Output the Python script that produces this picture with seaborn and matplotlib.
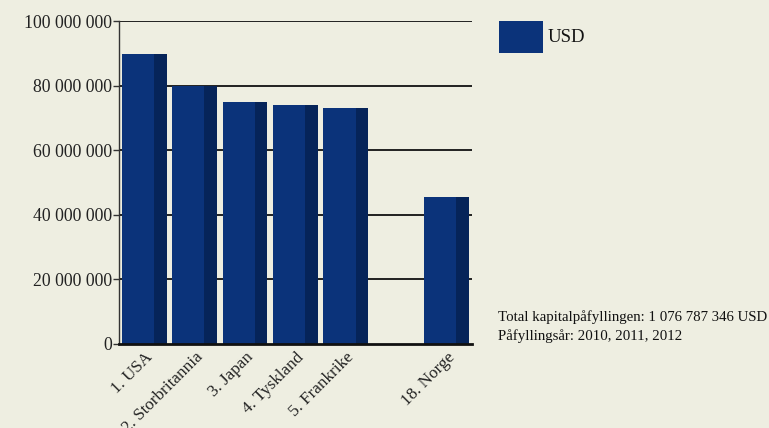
import numpy as np
import pandas as pd
import seaborn as sns
import matplotlib
matplotlib.use("Agg")
import matplotlib.pyplot as plt
from matplotlib.patches import Rectangle
from matplotlib.ticker import FuncFormatter

categories = ["1. USA", "2. Storbritannia", "3. Japan", "4. Tyskland", "5. Frankrike", " ", "18. Norge"]
values = [89.9e6, 80.0e6, 75.0e6, 74.1e6, 72.9e6, np.nan, 45.4e6]
series_name = "USD"
yticks = [0, 20e6, 40e6, 60e6, 80e6, 100e6]
note_lines = ["Total kapitalpåfyllingen: 1 076 787 346 USD", "Påfyllingsår: 2010, 2011, 2012"]

BG = "#eeeee1"
MAIN = "#0b337a"
DARK = "#062459"

sns.set_theme(style="white")
plt.rcParams["font.family"] = ["Liberation Serif", "DejaVu Serif"]

df = pd.DataFrame({"land": categories, "verdi": values})

fig = plt.figure(figsize=(7.69, 4.28), dpi=100, facecolor=BG)
ax = fig.add_axes([0.1547, 0.197, 0.6138 - 0.1547, 0.9509 - 0.197])
ax.set_facecolor(BG)

sns.barplot(data=df.dropna(), x="land", y="verdi", order=categories, color=MAIN,
            saturation=1, width=0.89, ax=ax, zorder=3, linewidth=0, edgecolor="none")

for p in list(ax.patches):
    w = p.get_width()
    h = p.get_height()
    if np.isnan(h) or h == 0:
        continue
    ax.add_patch(Rectangle((p.get_x() + w * 0.715, 0), w * 0.285, h,
                           facecolor=DARK, edgecolor="none", linewidth=0, zorder=4))

ax.set_xlim(-0.5, len(categories) - 0.5)
ax.set_ylim(0, 100e6)
ax.set_yticks(yticks)
ax.yaxis.set_major_formatter(FuncFormatter(lambda v, _: f"{int(v):,}".replace(",", " ")))
for y in yticks[1:]:
    ax.axhline(y, color="#111111", lw=1.3, zorder=1)

ax.set_xlabel("")
ax.set_ylabel("")
for s in ["top", "right"]:
    ax.spines[s].set_visible(False)
ax.spines["left"].set_color("#333333")
ax.spines["left"].set_linewidth(1.0)
ax.spines["bottom"].set_color("#111111")
ax.spines["bottom"].set_linewidth(2.0)
ax.spines["bottom"].set_zorder(5)

ax.tick_params(axis="y", length=4, width=1, color="#333333", pad=1, labelsize=12.8, labelcolor="#222222", left=True)
ax.tick_params(axis="x", length=0, pad=4, labelsize=12.3, labelcolor="#222222")
plt.setp(ax.get_xticklabels(), rotation=45, ha="right", rotation_mode="anchor")

# legend
lx, ly = 499 / 769, 1 - 53 / 428
fig.patches.append(Rectangle((lx, ly), 44 / 769, 32 / 428, transform=fig.transFigure,
                             facecolor=MAIN, edgecolor="none"))
fig.text(548 / 769, 1 - 37 / 428, series_name, fontsize=13.5, color="#111111", va="center", ha="left")

fig.text(498 / 769, 1 - 317 / 428, note_lines[0], fontsize=10.7, color="#111111", va="center", ha="left")
fig.text(498 / 769, 1 - 336 / 428, note_lines[1], fontsize=10.7, color="#111111", va="center", ha="left")

fig.savefig("out.png", dpi=100, facecolor=BG)
